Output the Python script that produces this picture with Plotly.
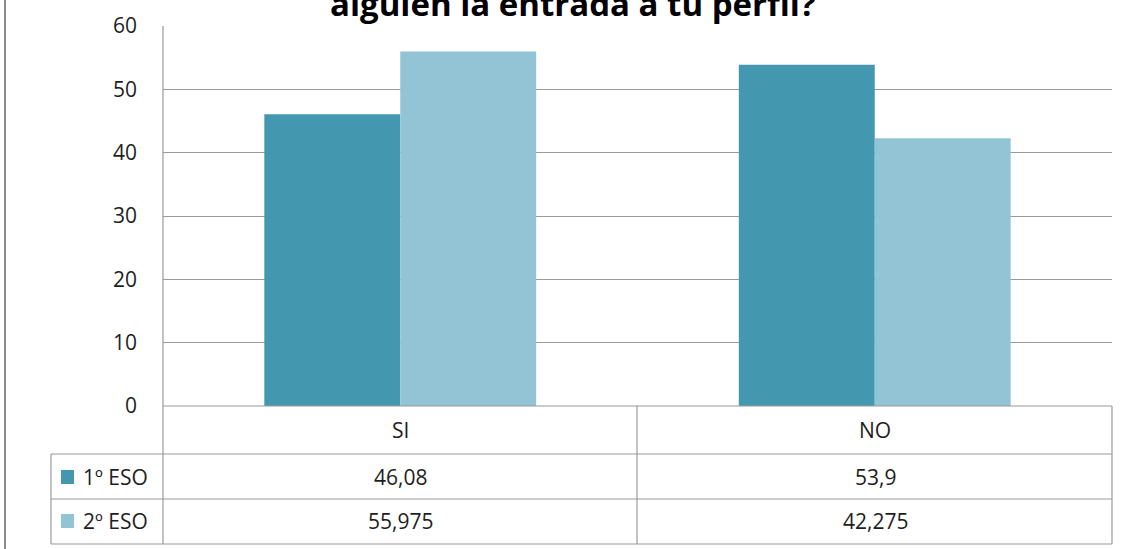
import plotly.graph_objects as go

categories = ["SI", "NO"]
series_names = ["1º ESO", "2º ESO"]
values_1eso = [46.08, 53.9]
values_2eso = [55.975, 42.275]
labels_1eso = ["46,08", "53,9"]
labels_2eso = ["55,975", "42,275"]
title_text = "alguien la entrada a tu perfil?"
colors = ["#4398AF", "#93C4D5"]

W, H = 1130, 549
FONT = "Open Sans"
TXT = "#1e1e1e"
LINE = "#9a9a9a"

def px(x):
    return x / W

def py(y):
    return 1 - y / H

L, R, T, B = 163, 1112, 26, 406
fig = go.Figure()
fig.add_trace(go.Bar(x=categories, y=values_1eso, name=series_names[0],
                     marker=dict(color=colors[0], line=dict(width=0))))
fig.add_trace(go.Bar(x=categories, y=values_2eso, name=series_names[1],
                     marker=dict(color=colors[1], line=dict(width=0))))

shapes = []
def line(x0, y0, x1, y1, color=LINE, w=1.2):
    shapes.append(dict(type="line", xref="paper", yref="paper",
                       x0=px(x0), y0=py(y0), x1=px(x1), y1=py(y1),
                       line=dict(color=color, width=w)))

# outer left frame
line(5, 0, 5, H, color="#8a8a8a", w=2)
# table lines
for yy in [454, 499, 544]:
    line(51, yy, R, yy)
line(L, B, R, B)
line(51, 454, 51, 544)
line(L, T, L, 544)
line(637, B, 637, 544)
line(R, B, R, 544)

def text(x, y, t, size=21, xanchor="center", bold=False, color=TXT):
    annotations.append(dict(x=px(x), y=py(y), xref="paper", yref="paper",
                            xanchor=xanchor, yanchor="middle",
                            text=("<b>%s</b>" % t) if bold else t, showarrow=False,
                            font=dict(family=FONT, size=size, color=color)))

annotations = []
col_centers = [400, 875]
row_centers = [430, 477, 521]
for i, c in enumerate(categories):
    text(col_centers[i], row_centers[0], c)
for r, labs in enumerate([labels_1eso, labels_2eso]):
    for i, t in enumerate(labs):
        text(col_centers[i], row_centers[r + 1], t)
    yc = row_centers[r + 1]
    shapes.append(dict(type="rect", xref="paper", yref="paper",
                       x0=px(61), x1=px(74), y0=py(yc - 7), y1=py(yc + 7),
                       fillcolor=colors[r], line=dict(width=0)))
    text(81, yc, series_names[r], xanchor="left")

text(573, 3, title_text, size=33, bold=True, color="#000000")

fig.update_layout(
    width=W, height=H, margin=dict(l=0, r=0, t=0, b=0, autoexpand=False),
    paper_bgcolor="white", plot_bgcolor="white",
    showlegend=False, barmode="group", bargap=0.427, bargroupgap=0,
    xaxis=dict(domain=[px(L), px(R)], showticklabels=False, showgrid=False, zeroline=False,
               showline=False, ticks="", automargin=False),
    yaxis=dict(domain=[py(B), py(T)], range=[0, 60], dtick=10, showgrid=True,
               gridcolor=LINE, gridwidth=1.2, zeroline=False, showline=False,
               ticks="", ticklabelstandoff=25, automargin=False,
               tickfont=dict(family=FONT, size=21, color=TXT)),
    shapes=shapes, annotations=annotations,
)
fig.write_html("out.html", config={"displayModeBar": False},
               post_script="document.body.style.margin='0';")
